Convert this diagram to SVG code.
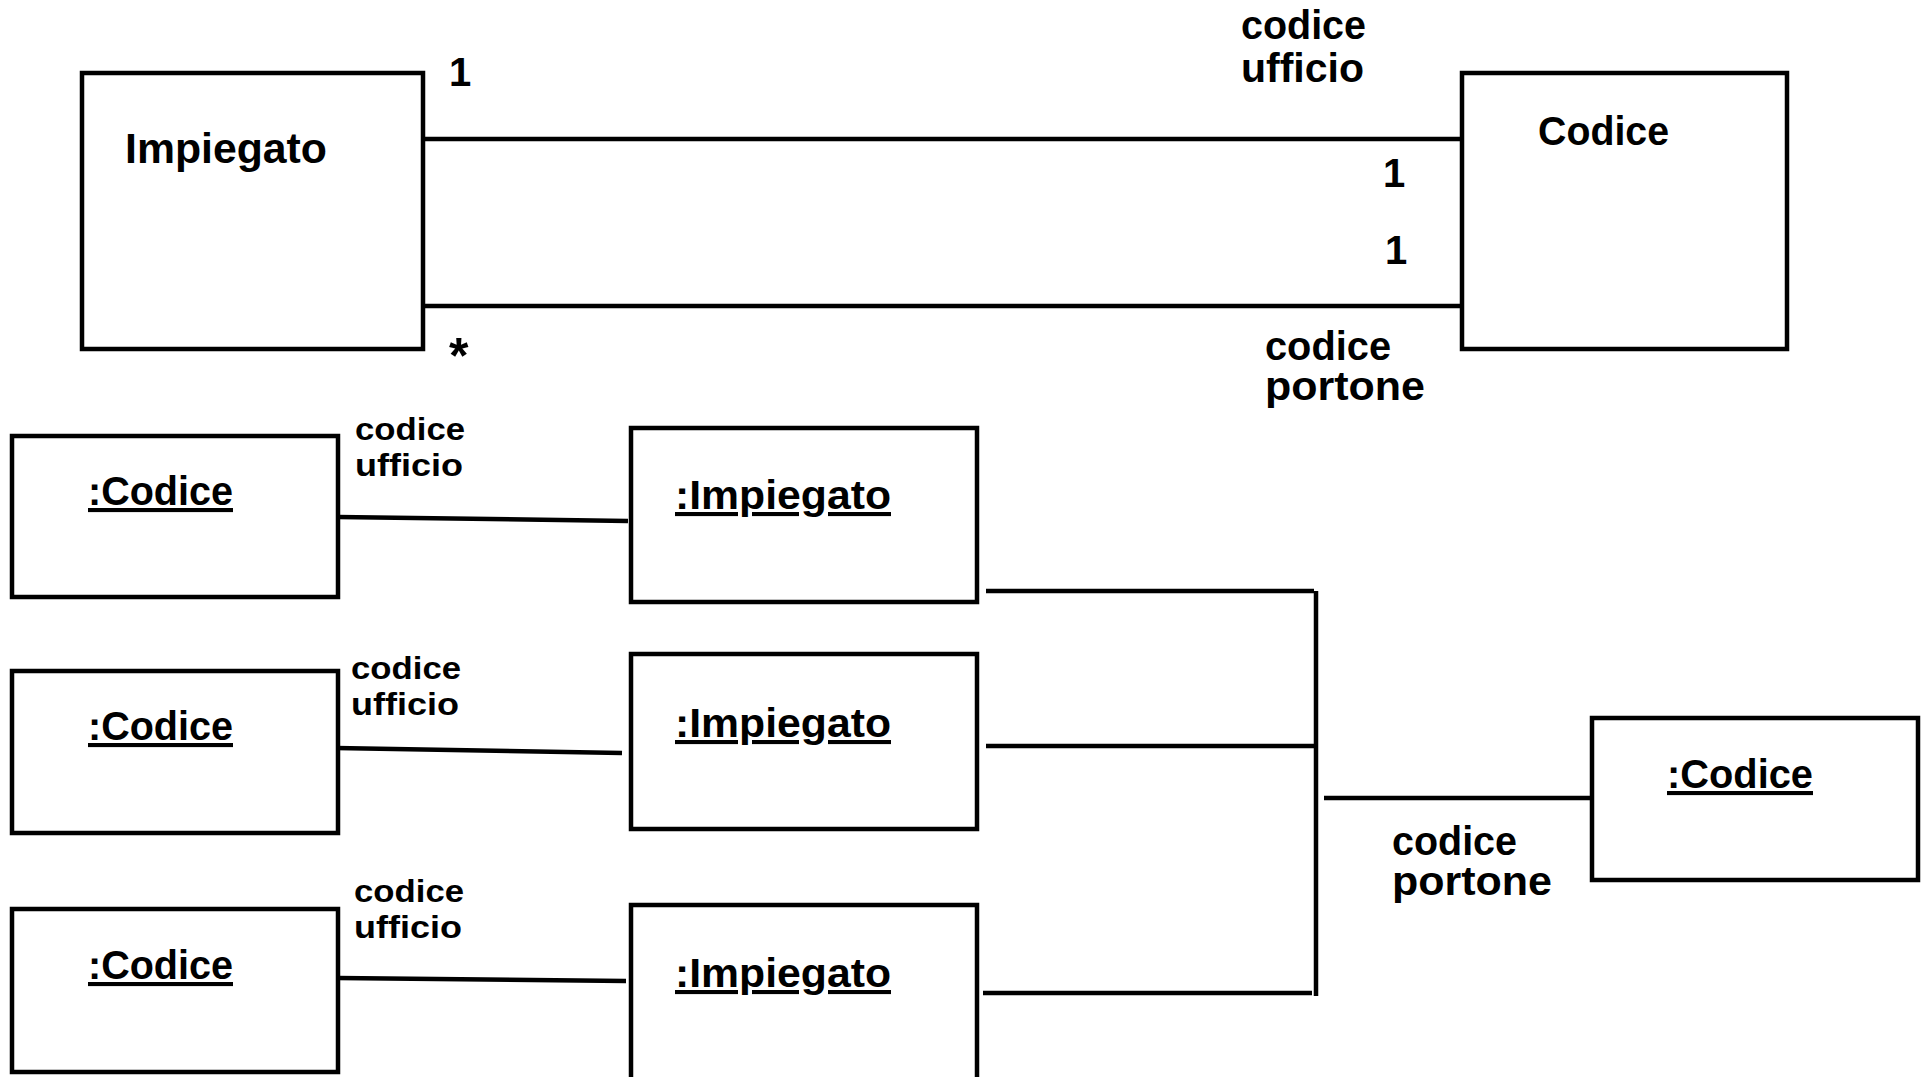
<svg xmlns="http://www.w3.org/2000/svg" width="1927" height="1077" viewBox="0 0 1927 1077">
<style>
  .box { fill: #ffffff; stroke: #000000; stroke-width: 4.5; }
  .conn line { stroke: #000000; stroke-width: 4.5; }
  text { font-family: "Liberation Sans", Arial, sans-serif; font-weight: bold; fill: #000000; }
  .cls { font-size: 42px; }
  .obj { font-size: 41px; text-decoration: underline; }
  .lbl { font-size: 40px; }
  .lbs { font-size: 32px; }
  .mul { font-size: 40px; }
</style>
<rect width="1927" height="1077" fill="#ffffff"/>

<g id="connectors" class="conn">
  <line x1="425" y1="139" x2="1464" y2="139"/>
  <line x1="425" y1="306" x2="1462" y2="306"/>
  <line x1="338" y1="517" x2="628" y2="521"/>
  <line x1="336" y1="748" x2="622" y2="753"/>
  <line x1="338" y1="978" x2="626" y2="981"/>
  <line x1="986" y1="591" x2="1314" y2="591"/>
  <line x1="986" y1="746" x2="1314" y2="746"/>
  <line x1="983" y1="993" x2="1312" y2="993"/>
  <line x1="1316" y1="591" x2="1316" y2="996"/>
  <line x1="1324" y1="798" x2="1592" y2="798"/>
</g>

<g id="labels">
  <text class="mul" x="449" y="86">1</text>
  <text class="mul" x="449" y="373" style="font-size:50px">*</text>
  <text class="mul" x="1383" y="187">1</text>
  <text class="mul" x="1385" y="264">1</text>
  <text class="lbl" x="1241" y="39" textLength="125" lengthAdjust="spacingAndGlyphs">codice</text>
  <text class="lbl" x="1241" y="82" textLength="123" lengthAdjust="spacingAndGlyphs">ufficio</text>
  <text class="lbl" x="1265" y="360" textLength="126" lengthAdjust="spacingAndGlyphs">codice</text>
  <text class="lbl" x="1265" y="400" textLength="160" lengthAdjust="spacingAndGlyphs">portone</text>
  <text class="lbs" x="355" y="440" textLength="110" lengthAdjust="spacingAndGlyphs">codice</text>
  <text class="lbs" x="355" y="476" textLength="108" lengthAdjust="spacingAndGlyphs">ufficio</text>
  <text class="lbs" x="351" y="679" textLength="110" lengthAdjust="spacingAndGlyphs">codice</text>
  <text class="lbs" x="351" y="715" textLength="108" lengthAdjust="spacingAndGlyphs">ufficio</text>
  <text class="lbs" x="354" y="902" textLength="110" lengthAdjust="spacingAndGlyphs">codice</text>
  <text class="lbs" x="354" y="938" textLength="108" lengthAdjust="spacingAndGlyphs">ufficio</text>
  <text class="lbl" x="1392" y="855" textLength="125" lengthAdjust="spacingAndGlyphs">codice</text>
  <text class="lbl" x="1392" y="895" textLength="160" lengthAdjust="spacingAndGlyphs">portone</text>
</g>

<g id="class-impiegato">
  <rect class="box" x="82" y="73" width="341" height="276"/>
  <text class="cls" x="125" y="163" textLength="202" lengthAdjust="spacingAndGlyphs">Impiegato</text>
</g>
<g id="class-codice">
  <rect class="box" x="1462" y="73" width="325" height="276"/>
  <text class="cls" x="1538" y="145" style="font-size:40px" textLength="131" lengthAdjust="spacingAndGlyphs">Codice</text>
</g>

<g id="obj-codice-1">
  <rect class="box" x="12" y="436" width="326" height="161"/>
  <text class="obj" x="88" y="505" textLength="145" lengthAdjust="spacingAndGlyphs">:Codice</text>
</g>
<g id="obj-codice-2">
  <rect class="box" x="12" y="671" width="326" height="162"/>
  <text class="obj" x="88" y="740" textLength="145" lengthAdjust="spacingAndGlyphs">:Codice</text>
</g>
<g id="obj-codice-3">
  <rect class="box" x="12" y="909" width="326" height="163"/>
  <text class="obj" x="88" y="979" textLength="145" lengthAdjust="spacingAndGlyphs">:Codice</text>
</g>
<g id="obj-impiegato-1">
  <rect class="box" x="631" y="428" width="346" height="174"/>
  <text class="obj" x="675" y="509" textLength="216" lengthAdjust="spacingAndGlyphs">:Impiegato</text>
</g>
<g id="obj-impiegato-2">
  <rect class="box" x="631" y="654" width="346" height="175"/>
  <text class="obj" x="675" y="737" textLength="216" lengthAdjust="spacingAndGlyphs">:Impiegato</text>
</g>
<g id="obj-impiegato-3">
  <rect class="box" x="631" y="905" width="346" height="200"/>
  <text class="obj" x="675" y="987" textLength="216" lengthAdjust="spacingAndGlyphs">:Impiegato</text>
</g>
<g id="obj-codice-r">
  <rect class="box" x="1592" y="718" width="326" height="162"/>
  <text class="obj" x="1667" y="788" textLength="146" lengthAdjust="spacingAndGlyphs">:Codice</text>
</g>
</svg>
